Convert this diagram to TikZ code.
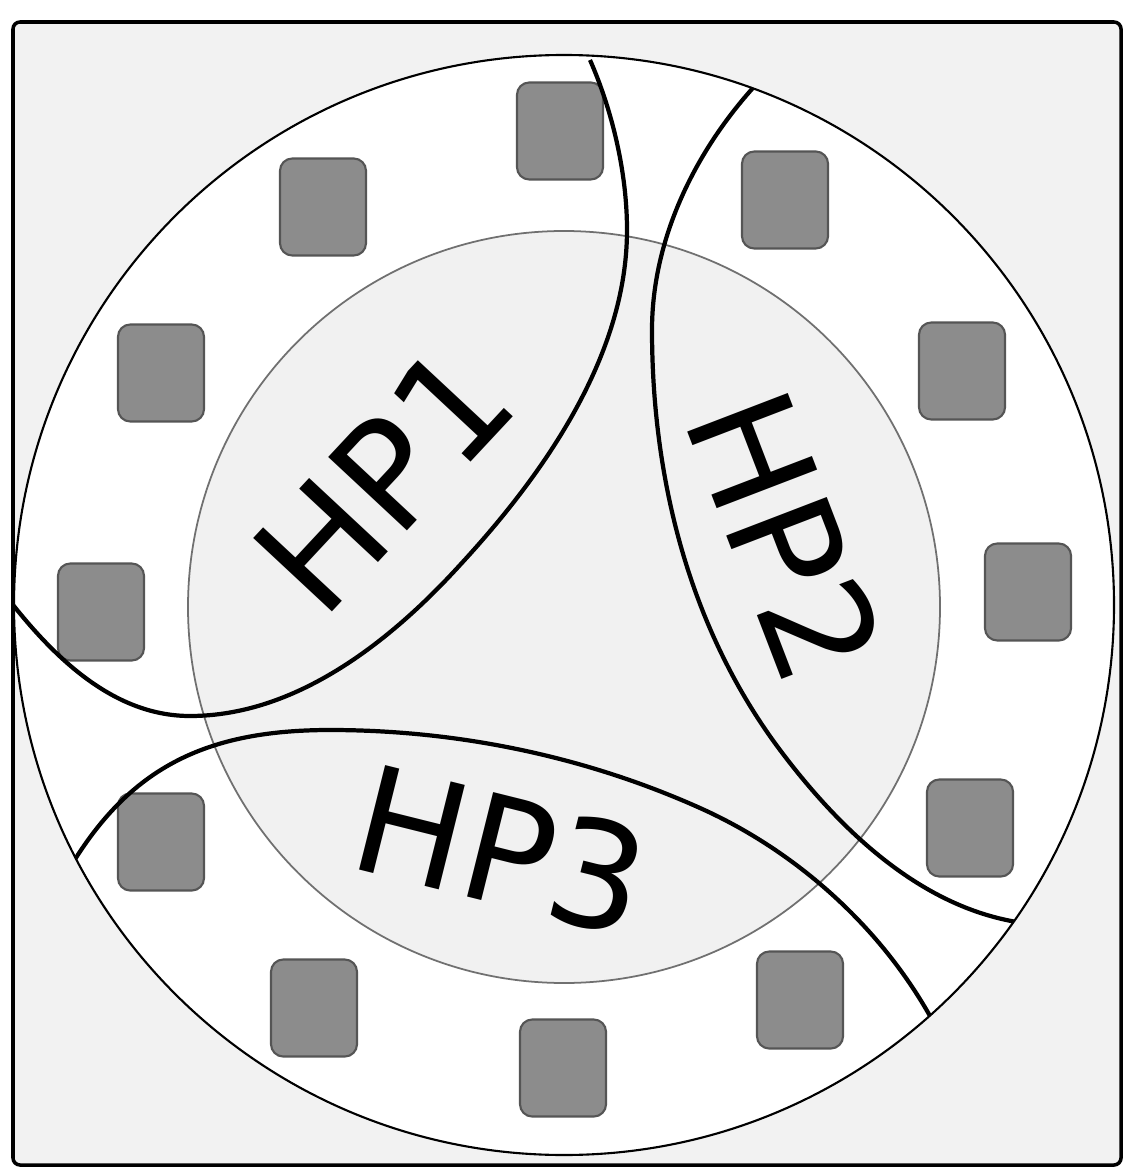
\documentclass[tikz,border=0pt]{standalone}
\usepackage{fontspec}
\setmainfont{DejaVu Sans}
\definecolor{framegray}{HTML}{F2F2F2}
\definecolor{coregray}{HTML}{F1F1F1}
\definecolor{padfill}{HTML}{8C8C8C}
\definecolor{padline}{HTML}{555555}
\definecolor{coreline}{HTML}{707070}
\tikzset{
  pad/.style={draw=padline, fill=padfill, line width=0.6pt, rounded corners=3.5pt,
    minimum width=0.86cm, minimum height=0.97cm, inner sep=0pt},
  hpline/.style={line width=1.2pt},
  hplabel/.style={font=\fontsize{42}{50}\selectfont, inner sep=0pt}
}
\begin{document}
\begin{tikzpicture}[x=0.01cm,y=-0.01cm]
\useasboundingbox (0,0) rectangle (1123,1167);
\draw[fill=framegray, line width=1pt, rounded corners=2pt] (13,22) rectangle (1121,1165);

\coordinate (ring) at (564,605);
\coordinate (core) at (564,607);
\draw[fill=white, line width=0.6pt] (ring) circle [radius=550];
\draw[fill=coregray, draw=coreline, line width=0.5pt] (core) circle [radius=376];

% pads round the ring
\node[pad] (p1) at (560,131) {};
\node[pad] (p2) at (323,207) {};
\node[pad] (p3) at (161,373) {};
\node[pad] (p4) at (101,612) {};
\node[pad] (p5) at (161,842) {};
\node[pad] (p6) at (314,1008) {};
\node[pad] (p7) at (563,1068) {};
\node[pad] (p8) at (800,1000) {};
\node[pad] (p9) at (970,828) {};
\node[pad] (p10) at (1028,592) {};
\node[pad] (p11) at (962,371) {};
\node[pad] (p12) at (785,200) {};

% the three hyperplanes, cut at the ring
\begin{scope}
\clip (ring) circle [radius=550];
\draw[hpline] (590,60) .. controls (612,110) and (627,172) .. (627,230)
  .. controls (627,355) and (545,473) .. (460,565)
  .. controls (389,643) and (295,716) .. (190,716)
  .. controls (110,716) and (48,652) .. (0,588);
\draw[hpline] (765,75) .. controls (699,143) and (652,235) .. (652,330)
  .. controls (652,480) and (690,630) .. (780,750)
  .. controls (846,838) and (935,920) .. (1045,925);
\draw[hpline] (60,885) .. controls (122,771) and (200,730) .. (330,730)
  .. controls (457,730) and (584,756) .. (700,808)
  .. controls (805,855) and (896,941) .. (945,1045);
\end{scope}

\node[hplabel, rotate=47] (hp1) at (383,478) {HP1};
\node[hplabel, rotate=-69] (hp2) at (786,536) {HP2};
\node[hplabel, rotate=-14] (hp3) at (501,850) {HP3};
\end{tikzpicture}
\end{document}
